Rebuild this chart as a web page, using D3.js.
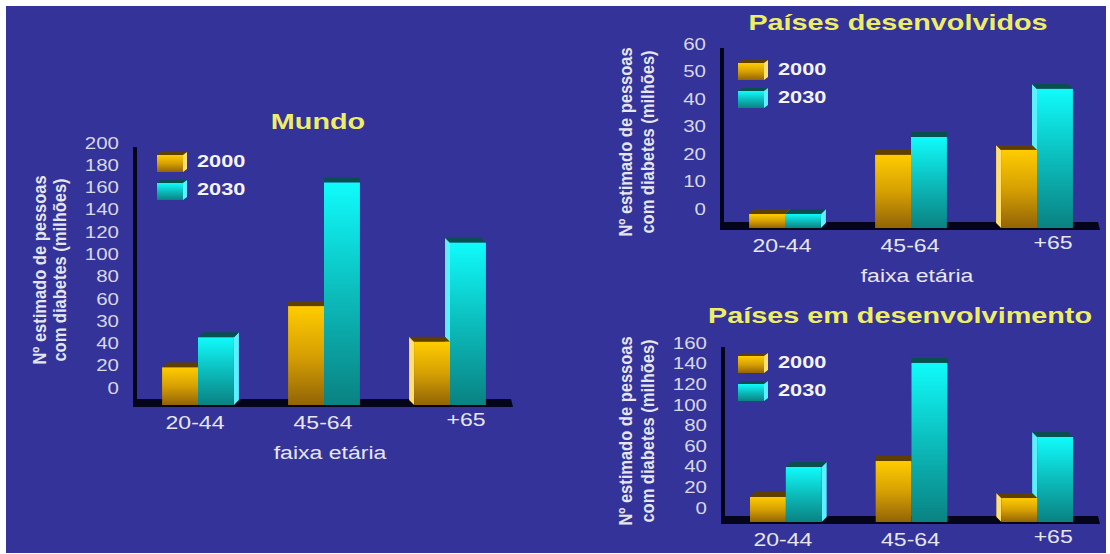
<!DOCTYPE html>
<html>
<head>
<meta charset="utf-8">
<script src="https://cdn.jsdelivr.net/npm/d3@7"></script>
<style>
  body { margin: 0; background: #fff; }
  svg { display: block; font-family: "Liberation Sans", Arial, sans-serif; }
</style>
</head>
<body>
<div id="chart"></div>
<script>
// ---------------------------------------------------------------------------
// DATA (millions of people with diabetes)
// ---------------------------------------------------------------------------
const ageGroups = ["20-44", "45-64", "+65"];
const years = ["2000", "2030"];

// Mundo: the slide's tick labels are printed as they appear (the "30" is in the original)
const mundo2000 = [23, 78, 46];
const mundo2030 = [50, 189, 135];
const mundoTicks = ["0", "20", "40", "30", "60", "80", "100", "120", "140", "160", "180", "200"];

const desenv2000 = [0, 21.5, 23.3];
const desenv2030 = [0, 28, 45.5];
const desenvTicks = ["0", "10", "20", "30", "40", "50", "60"];

const emDesenv2000 = [15.5, 50.4, 14.5];
const emDesenv2030 = [44.6, 145.5, 73.7];
const emDesenvTicks = ["0", "20", "40", "60", "80", "100", "120", "140", "160"];

const yTitleLines = ["Nº estimado de pessoas", "com diabetes (milhões)"];
const xTitle = "faixa etária";

// ---------------------------------------------------------------------------
// CANVAS
// ---------------------------------------------------------------------------
const W = 1110, H = 554;
const stretch = 1.28; // the slide is stretched horizontally, text included

const svg = d3.select("#chart").append("svg")
    .attr("width", W)
    .attr("height", H);

svg.append("rect")
    .attr("x", 6).attr("y", 6)
    .attr("width", W - 10).attr("height", H - 7)
    .attr("fill", "#343399");

const defs = svg.append("defs");
function vGrad(id, stops) {
    const lg = defs.append("linearGradient").attr("id", id)
        .attr("x1", 0).attr("y1", 0).attr("x2", 0).attr("y2", 1);
    stops.forEach(([o, c]) => lg.append("stop").attr("offset", o).attr("stop-color", c));
}
vGrad("goldFront", [[0, "#ffcc00"], [0.5, "#d6a003"], [1, "#926406"]]);
vGrad("cyanFront", [[0, "#10fbfb"], [0.5, "#0cbcbc"], [1, "#0a8282"]]);

const faces = {
    "2000": { front: "url(#goldFront)", top: "#5e3f00", side: "#ffe070" },
    "2030": { front: "url(#cyanFront)", top: "#0a4f4f", side: "#5cefff" }
};

function stretchedText(g, x, y, str, size, opts = {}) {
    return g.append("text")
        .attr("transform", `translate(${x},${y}) scale(${stretch},1)`)
        .attr("dy", "0.35em")
        .attr("text-anchor", opts.anchor || "middle")
        .attr("font-weight", opts.bold ? "bold" : "normal")
        .style("font-size", size + "px")
        .attr("fill", opts.fill || "#e6e6ee")
        .text(str);
}

// ---------------------------------------------------------------------------
// ONE PANEL
// ---------------------------------------------------------------------------
const catLabelDx = [-3, -1, 16];

function drawPanel(p) {
    const g = svg.append("g");
    const step = p.tickStep;
    const tickVals = p.ticks.map((t, i) => i * step);
    const y = d3.scaleLinear()
        .domain([0, step * (p.ticks.length - 1)])
        .range([p.yZero, p.yTop]);
    const base = p.yZero + p.baseOff;

    const x0 = d3.scaleBand().domain(ageGroups).range([p.left, p.right]);
    const mid = (p.left + p.right) / 2;
    const gw = x0.step() * 0.57;
    const x1 = d3.scaleBand().domain(years).range([-gw / 2, gw / 2]);

    // floor and value axis wall
    g.append("path")
        .attr("d", `M${p.left},${base - 6}L${p.right - 2},${base - 6}L${p.right},${base + 2}L${p.left},${base + 2}Z`)
        .attr("fill", "#04041a");
    g.append("line")
        .attr("x1", p.left).attr("x2", p.left)
        .attr("y1", p.yTop + 4).attr("y2", base + 2)
        .attr("stroke", "#04041a").attr("stroke-width", 4);

    // tick labels
    const axG = g.append("g")
        .attr("transform", `translate(${p.left - 16},0)`)
        .call(d3.axisLeft(y).tickValues(tickVals).tickFormat((d, i) => p.ticks[i]).tickSize(0).tickPadding(0))
        .attr("font-family", null)
        .attr("font-size", 16);
    axG.select(".domain").remove();
    axG.selectAll("text")
        .attr("x", 0)
        .attr("transform", `scale(${stretch},1)`)
        .attr("fill", "#d8d8e6");

    // bars (pseudo 3D: front, top and visible side faces)
    const groups = ageGroups.map((a, i) => ({
        age: a,
        center: x0(a) + x0.step() / 2,
        vals: [{ year: "2000", v: p.d2000[i] }, { year: "2030", v: p.d2030[i] }]
    }));

    groups.forEach(grp => {
        const dx = Math.round(-(grp.center - mid) * 0.04);
        const order = dx < 0 ? [...grp.vals].reverse() : grp.vals;
        const bg = g.append("g");
        order.forEach(d => {
            const xa = grp.center + x1(d.year);
            const xb = xa + x1.bandwidth();
            const yt = y(d.v);
            const yf = yt + 5;
            const f = faces[d.year];
            if (dx !== 0) {
                const xs = dx > 0 ? xb : xa;
                bg.append("path")
                    .attr("d", `M${xs},${yf}L${xs + dx},${yt}L${xs + dx},${base - 5}L${xs},${base}Z`)
                    .attr("fill", f.side);
            }
            bg.append("path")
                .attr("d", `M${xa},${yf}L${xb},${yf}L${xb + dx},${yt}L${xa + dx},${yt}Z`)
                .attr("fill", f.top);
            bg.append("rect")
                .attr("x", xa).attr("y", yf)
                .attr("width", xb - xa).attr("height", base - yf)
                .attr("fill", f.front);
        });
    });

    // category labels
    ageGroups.forEach((a, i) => {
        stretchedText(g, x0(a) + x0.step() / 2 + catLabelDx[i], base + (i === 2 ? 15 : 18), a, 18);
    });

    if (p.showXTitle) stretchedText(g, mid + 6, base + 48, xTitle, 18);

    // legend
    years.forEach((yr, i) => {
        const lx = p.legend[0], ly = p.legend[1] + i * 28;
        const f = faces[yr];
        g.append("path").attr("d", `M${lx},${ly + 3}L${lx + 26},${ly + 3}L${lx + 30},${ly}L${lx + 4},${ly}Z`).attr("fill", f.top);
        g.append("rect").attr("x", lx).attr("y", ly + 3).attr("width", 26).attr("height", 17).attr("fill", f.front);
        g.append("path").attr("d", `M${lx + 26},${ly + 3}L${lx + 30},${ly}L${lx + 30},${ly + 17}L${lx + 26},${ly + 20}Z`).attr("fill", f.side);
        stretchedText(g, lx + 40, ly + 9, yr, 17, { anchor: "start", bold: true, fill: "#f4f4f8" });
    });

    // titles
    stretchedText(g, p.title[0], p.title[1], p.titleText, 22.5, { bold: true, fill: "#eeee66" });
    yTitleLines.forEach((line, i) => {
        g.append("text")
            .attr("transform", `translate(${p.yTitleX[i]},${p.yTitleY}) scale(1.1,1) rotate(-90)`)
            .attr("dy", "0.35em")
            .attr("text-anchor", "middle")
            .attr("font-weight", "bold")
            .style("font-size", "16.5px")
            .attr("fill", "#e6e6ee")
            .text(line);
    });
}

drawPanel({
    titleText: "Mundo", title: [318, 121],
    d2000: mundo2000, d2030: mundo2030, ticks: mundoTicks, tickStep: 20,
    left: 135, right: 513, yTop: 143, yZero: 388, baseOff: 17,
    legend: [157, 152], showXTitle: true,
    yTitleX: [40, 60], yTitleY: 270
});

drawPanel({
    titleText: "Países desenvolvidos", title: [898, 22],
    d2000: desenv2000, d2030: desenv2030, ticks: desenvTicks, tickStep: 10,
    left: 722, right: 1100, yTop: 44, yZero: 209, baseOff: 19,
    legend: [738, 60], showXTitle: true,
    yTitleX: [626, 648], yTitleY: 142
});

drawPanel({
    titleText: "Países em desenvolvimento", title: [900, 315],
    d2000: emDesenv2000, d2030: emDesenv2030, ticks: emDesenvTicks, tickStep: 20,
    left: 723, right: 1100, yTop: 343, yZero: 508, baseOff: 14,
    legend: [738, 353], showXTitle: false,
    yTitleX: [626, 648], yTitleY: 431
});
</script>
</body>
</html>
